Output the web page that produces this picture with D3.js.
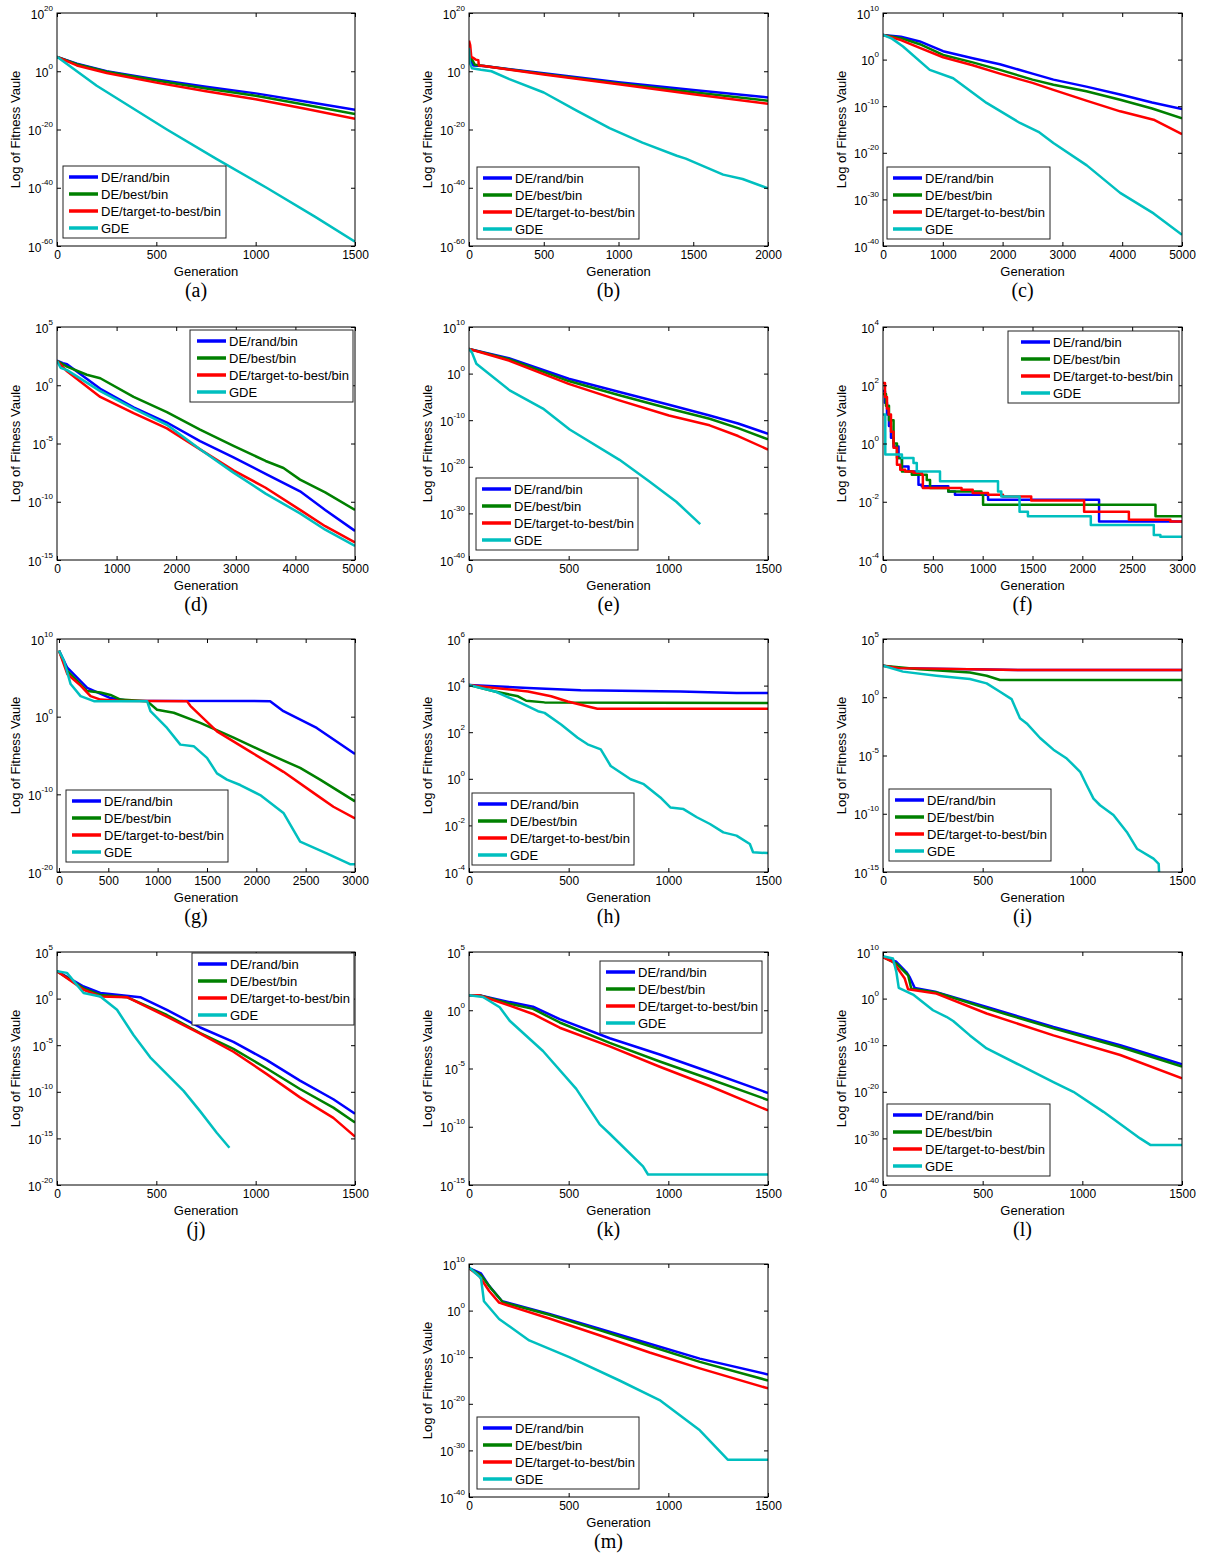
<!DOCTYPE html>
<html><head><meta charset="utf-8">
<script src="https://cdn.jsdelivr.net/npm/d3@7"></script>
<style>body{margin:0;background:#fff}text{font-family:"Liberation Sans",Arial,sans-serif}</style>
</head><body>
<svg id="c" width="1207" height="1553"></svg>
<script>
// ---- legend / series ----
const SERIES = ["DE/rand/bin", "DE/best/bin", "DE/target-to-best/bin", "GDE"];
const COLORS = ["#0000ff", "#008000", "#ff0000", "#00bfbf"];
// data: [generation, log10(fitness)]
// (a)
const a_xticks = [0, 500, 1000, 1500];
const a_yticks = [20, 0, -20, -40, -60];
const a_rand = [[0,4.9],[100,2.6],[250,0],[500,-2.8],[750,-5.3],[1000,-7.6],[1250,-10.4],[1500,-13.2]];
const a_best = [[0,4.9],[100,2.4],[250,-0.2],[500,-3.2],[750,-5.9],[1000,-8.4],[1250,-11.5],[1500,-14.7]];
const a_ttb  = [[0,4.9],[100,2.0],[250,-0.6],[500,-3.9],[750,-6.9],[1000,-9.6],[1250,-12.9],[1500,-16.3]];
const a_gde  = [[0,5],[50,2.5],[200,-5],[553,-20],[800,-30],[1055,-40],[1300,-50],[1500,-58.5]];
// (b)
const b_xticks = [0, 500, 1000, 1500, 2000];
const b_yticks = [20, 0, -20, -40, -60];
const b_rand = [[0,7],[15,3],[30,2],[100,1.8],[500,-0.7],[1000,-3.8],[1500,-6.4],[2000,-9]];
const b_best = [[0,6],[20,4],[40,2.2],[100,1.8],[500,-0.9],[1000,-4.2],[1500,-7.2],[2000,-10.1]];
const b_ttb  = [[0,10.5],[8,9],[15,5],[30,4.5],[45,4],[62,3.8],[66,2],[100,1.8],[500,-1.1],[1000,-4.5],[1500,-7.9],[2000,-11.2]];
const b_gde  = [[0,8],[5,3],[20,1],[80,0.5],[150,0],[270,-2.7],[500,-7.3],[720,-13.5],[940,-19.5],[1160,-24.5],[1390,-29],[1450,-30],[1610,-33.5],[1700,-35.5],[1830,-37],[2000,-40.2]];
// (c)
const c_xticks = [0, 1000, 2000, 3000, 4000, 5000];
const c_yticks = [10, 0, -10, -20, -30, -40];
const c_rand = [[0,5.3],[300,4.9],[615,3.9],[1005,1.8],[1500,0.3],[1955,-1],[2500,-3],[2850,-4.3],[3400,-5.8],[3966,-7.5],[4500,-9.2],[5000,-10.6]];
const c_best = [[0,5.3],[300,4.6],[615,3.3],[1005,1],[1500,-0.6],[1955,-2.2],[2500,-4.3],[2850,-5.4],[3400,-6.8],[3966,-8.6],[4500,-10.5],[5000,-12.6]];
const c_ttb  = [[0,5.3],[300,4.2],[615,2.5],[1005,0.5],[1500,-1.2],[1955,-3],[2500,-5],[2850,-6.5],[3400,-8.8],[3966,-11.1],[4525,-12.9],[5000,-16]];
const c_gde  = [[0,5.3],[150,4.5],[335,2.8],[782,-2.2],[1173,-4],[1732,-9.3],[2290,-13.6],[2600,-15.5],[2849,-17.9],[3408,-22.7],[3966,-28.6],[4525,-33],[5000,-37.6]];
// (d)
const d_xticks = [0, 1000, 2000, 3000, 4000, 5000];
const d_yticks = [5, 0, -5, -10, -15];
const d_rand = [[0,2.1],[100,1.9],[168,1.8],[726,-0.3],[1285,-1.9],[1844,-3.2],[2400,-4.8],[2961,-6.2],[3500,-7.6],[4078,-9.1],[4500,-10.7],[5000,-12.5]];
const d_best = [[0,2.1],[168,1.6],[500,0.9],[726,0.6],[1285,-1],[1844,-2.3],[2400,-3.8],[2961,-5.2],[3500,-6.5],[3800,-7.1],[4078,-8.1],[4500,-9.2],[5000,-10.7]];
const d_ttb  = [[0,2.1],[168,1.2],[726,-1],[1285,-2.4],[1844,-3.7],[2400,-5.5],[2961,-7.3],[3500,-8.8],[4078,-10.7],[4500,-12.1],[5000,-13.5]];
const d_gde  = [[0,2.1],[60,1.5],[168,1.3],[726,-0.5],[1285,-2],[1844,-3.4],[2400,-5.5],[2961,-7.5],[3500,-9.3],[4078,-11],[4500,-12.4],[5000,-13.8]];
// (e)
const e_xticks = [0, 500, 1000, 1500];
const e_yticks = [10, 0, -10, -20, -30, -40];
const e_rand = [[0,5.3],[200,3.3],[500,-1.1],[750,-3.9],[1003,-6.7],[1207,-9],[1350,-10.7],[1500,-12.9]];
const e_best = [[0,5.3],[200,3.1],[500,-1.6],[750,-4.6],[1003,-7.5],[1207,-9.7],[1350,-11.7],[1500,-14.1]];
const e_ttb  = [[0,5.3],[200,2.8],[500,-2.2],[750,-5.7],[1003,-9],[1207,-11.1],[1350,-13.4],[1500,-16.3]];
const e_gde  = [[0,5.3],[15,4.5],[37,2.1],[204,-3.6],[371,-7.5],[505,-12],[755,-18.5],[900,-23],[1040,-27.5],[1160,-32.3]];
// (f)
const f_xticks = [0, 500, 1000, 1500, 2000, 2500, 3000];
const f_yticks = [4, 2, 0, -2, -4];
const f_rand = [[0,1.8],[20,1.4],[40,1.0],[60,0.6],[80,0.2],[106,-0.1],[156,-0.5],[190,-0.79],[256,-0.96],[356,-1.42],[389,-1.47],[655,-1.65],[722,-1.76],[1054,-1.93],[2168,-2.68],[3000,-2.68]];
const f_best = [[0,1.7],[30,1.3],[60,0.8],[106,0],[140,-0.5],[190,-0.96],[289,-1.07],[439,-1.25],[472,-1.53],[655,-1.65],[988,-1.76],[1004,-2.1],[2734,-2.5],[3000,-2.5]];
const f_ttb  = [[0,2.08],[20,1.6],[40,1.2],[57,1],[80,0.4],[106,-0.15],[140,-0.73],[173,-0.9],[223,-0.96],[306,-1],[389,-1.07],[400,-1.53],[788,-1.59],[900,-1.7],[1054,-1.76],[1204,-1.82],[1487,-1.96],[2018,-2.34],[2467,-2.62],[2883,-2.68],[3000,-2.68]];
const f_gde  = [[0,1],[23,-0.38],[190,-0.5],[306,-0.67],[339,-0.96],[572,-1.3],[1154,-1.65],[1187,-1.82],[1370,-2.34],[1454,-2.5],[2085,-2.8],[2717,-3.14],[2783,-3.2],[3000,-3.2]];
// (g)
const g_xticks = [0, 500, 1000, 1500, 2000, 2500, 3000];
const g_yticks = [10, 0, -10, -20];
const g_rand = [[0,8.5],[84,6.3],[286,3.7],[522,2.4],[700,2.05],[2140,2],[2275,0.7],[2612,-1.45],[3000,-4.8]];
const g_best = [[0,8.5],[84,5.9],[286,3.3],[421,3.1],[522,2.8],[623,2.2],[893,2],[994,0.9],[1163,0.5],[1432,-0.8],[1770,-2.7],[2107,-4.7],[2444,-6.6],[2646,-8.1],[3000,-10.9]];
const g_ttb  = [[0,8.5],[84,5.5],[219,4],[320,2.65],[421,2.2],[600,2.05],[1297,2],[1331,1.4],[1601,-1.9],[1938,-4.5],[2275,-7.1],[2612,-10.1],[2781,-11.6],[3000,-13.1]];
const g_gde  = [[0,8.5],[51,7.2],[118,4.2],[219,2.65],[354,2],[893,2],[927,0.7],[1095,-1.45],[1230,-3.6],[1365,-3.8],[1500,-5.3],[1601,-7.3],[1702,-8.1],[1837,-8.8],[2039,-10.1],[2275,-12.4],[2444,-16.1],[2713,-17.6],[2949,-19],[3000,-19]];
// (h)
const h_xticks = [0, 500, 1000, 1500];
const h_yticks = [6, 4, 2, 0, -2, -4];
const h_rand = [[0,4.03],[296,3.9],[561,3.8],[1060,3.75],[1342,3.68],[1500,3.68]];
const h_best = [[0,4.03],[130,3.75],[246,3.54],[287,3.35],[379,3.28],[1500,3.25]];
const h_ttb  = [[0,4.03],[130,3.9],[296,3.75],[412,3.54],[495,3.32],[561,3.18],[644,3.01],[1500,3.01]];
const h_gde  = [[0,4.03],[130,3.75],[262,3.25],[346,2.9],[379,2.83],[462,2.33],[545,1.76],[595,1.48],[661,1.26],[711,0.55],[811,-0.02],[877,-0.23],[960,-0.8],[1010,-1.23],[1076,-1.3],[1143,-1.65],[1209,-1.94],[1276,-2.3],[1342,-2.44],[1409,-2.8],[1425,-3.15],[1500,-3.19]];
// (i)
const i_xticks = [0, 500, 1000, 1500];
const i_yticks = [5, 0, -5, -10, -15];
const i_rand = [[0,2.7],[80,2.5],[600,2.35],[1500,2.33]];
const i_best = [[0,2.7],[184,2.4],[436,2.13],[520,1.85],[587,1.48],[1500,1.48]];
const i_ttb  = [[0,2.7],[80,2.5],[600,2.35],[1500,2.33]];
const i_gde  = [[0,2.7],[100,2.2],[268,1.85],[436,1.56],[520,1.19],[587,0.47],[645,-0.16],[687,-1.8],[721,-2.25],[788,-3.5],[855,-4.5],[922,-5.26],[989,-6.4],[1022,-7.55],[1056,-8.7],[1089,-9.27],[1156,-10.1],[1223,-11.56],[1274,-13],[1357,-13.85],[1383,-14.3],[1385,-15]];
// (j)
const j_xticks = [0, 500, 1000, 1500];
const j_yticks = [5, 0, -5, -10, -15, -20];
const j_rand = [[0,2.94],[134,1.3],[218,0.6],[419,0.15],[553,-1.2],[721,-3.1],[888,-4.65],[1056,-6.6],[1223,-8.8],[1391,-10.8],[1500,-12.35]];
const j_best = [[0,2.94],[134,1.1],[218,0.4],[352,0.15],[553,-1.76],[721,-3.7],[888,-5.4],[1056,-7.5],[1223,-9.7],[1391,-11.7],[1500,-13.3]];
const j_ttb  = [[0,2.94],[134,0.95],[218,0.23],[352,0.15],[553,-1.94],[721,-3.75],[888,-5.7],[1056,-8.1],[1223,-10.6],[1391,-12.8],[1500,-14.8]];
const j_gde  = [[0,2.94],[50,2.76],[134,0.6],[218,0.23],[302,-1.2],[385,-3.9],[469,-6.3],[553,-8.1],[637,-9.9],[721,-12.1],[804,-14.4],[868,-16]];
// (k)
const k_xticks = [0, 500, 1000, 1500];
const k_yticks = [5, 0, -5, -10, -15];
const k_rand = [[0,1.29],[50,1.29],[204,0.7],[321,0.3],[455,-0.76],[706,-2.4],[957,-3.8],[1207,-5.3],[1500,-7.1]];
const k_best = [[0,1.29],[50,1.29],[204,0.56],[321,0.12],[455,-1.05],[706,-2.8],[957,-4.4],[1207,-5.9],[1500,-7.7]];
const k_ttb  = [[0,1.29],[50,1.29],[204,0.4],[321,-0.32],[455,-1.5],[706,-3.1],[957,-4.85],[1207,-6.5],[1500,-8.6]];
const k_gde  = [[0,1.29],[70,1.14],[154,0.26],[204,-0.9],[371,-3.5],[538,-6.75],[656,-9.8],[706,-10.6],[873,-13.4],[898,-14.1],[1500,-14.1]];
// (l)
const l_xticks = [0, 500, 1000, 1500];
const l_yticks = [10, 0, -10, -20, -30, -40];
const l_rand = [[0,8.9],[67,7.9],[117,5.7],[134,4.6],[159,2.3],[268,1.4],[520,-1.8],[855,-6.1],[1190,-10],[1500,-14.1]];
const l_best = [[0,8.9],[67,7.5],[126,5],[142,2.1],[268,1.3],[520,-2.1],[855,-6.4],[1190,-10.4],[1500,-14.6]];
const l_ttb  = [[0,8.9],[50,7.9],[109,4.3],[126,2],[268,1.07],[520,-3.2],[855,-7.9],[1190,-12.1],[1500,-17.1]];
const l_gde  = [[0,9.1],[50,8.6],[67,5.7],[79,2.3],[151,0.86],[251,-2.5],[318,-3.9],[352,-4.8],[436,-7.9],[520,-10.7],[687,-14.3],[855,-17.9],[955,-20],[1106,-24.3],[1290,-30],[1341,-31.4],[1500,-31.4]];
// (m)
const m_xticks = [0, 500, 1000, 1500];
const m_yticks = [10, 0, -10, -20, -30, -40];
const m_rand = [[0,9.1],[60,8],[101,5.3],[166,2],[403,-0.7],[654,-3.9],[906,-7.1],[1158,-10.3],[1500,-13.7]];
const m_best = [[0,9.1],[60,7.6],[110,4.8],[170,1.8],[403,-0.9],[654,-4.2],[906,-7.6],[1158,-11],[1500,-15]];
const m_ttb  = [[0,9.1],[50,7.5],[101,4.2],[151,1.7],[403,-1.7],[654,-5.3],[906,-9],[1158,-12.4],[1500,-16.7]];
const m_gde  = [[0,9.3],[60,7],[75,2],[151,-1.8],[302,-6.4],[503,-10],[755,-15],[956,-19.2],[1158,-25.7],[1298,-32],[1500,-32]];

// ---- layout ----
const colX = [57, 469, 883], colW = [298, 299, 299];
const rowY = [13, 327, 639, 952, 1264], H = 233;
const panels = [
  {id:"a", d:[a_rand,a_best,a_ttb,a_gde], xt:a_xticks, yt:a_yticks, c:0, r:0, leg:[6,153,163,6]},
  {id:"b", d:[b_rand,b_best,b_ttb,b_gde], xt:b_xticks, yt:b_yticks, c:1, r:0, leg:[8,154,162,6]},
  {id:"c", d:[c_rand,c_best,c_ttb,c_gde], xt:c_xticks, yt:c_yticks, c:2, r:0, leg:[4,154,163,6]},
  {id:"d", d:[d_rand,d_best,d_ttb,d_gde], xt:d_xticks, yt:d_yticks, c:0, r:1, leg:[133,3,163,7]},
  {id:"e", d:[e_rand,e_best,e_ttb,e_gde], xt:e_xticks, yt:e_yticks, c:1, r:1, leg:[7,151,162,6]},
  {id:"f", d:[f_rand,f_best,f_ttb,f_gde], xt:f_xticks, yt:f_yticks, c:2, r:1, leg:[125,4,171,13], step:true},
  {id:"g", d:[g_rand,g_best,g_ttb,g_gde], xt:g_xticks, yt:g_yticks, c:0, r:2, leg:[9,151,162,6], xmin:-20},
  {id:"h", d:[h_rand,h_best,h_ttb,h_gde], xt:h_xticks, yt:h_yticks, c:1, r:2, leg:[3,154,162,6]},
  {id:"i", d:[i_rand,i_best,i_ttb,i_gde], xt:i_xticks, yt:i_yticks, c:2, r:2, leg:[6,150,162,6]},
  {id:"j", d:[j_rand,j_best,j_ttb,j_gde], xt:j_xticks, yt:j_yticks, c:0, r:3, leg:[135,1,162,6]},
  {id:"k", d:[k_rand,k_best,k_ttb,k_gde], xt:k_xticks, yt:k_yticks, c:1, r:3, leg:[131,9,162,6]},
  {id:"l", d:[l_rand,l_best,l_ttb,l_gde], xt:l_xticks, yt:l_yticks, c:2, r:3, leg:[4,152,163,6]},
  {id:"m", d:[m_rand,m_best,m_ttb,m_gde], xt:m_xticks, yt:m_yticks, c:1, r:4, leg:[8,153,162,6]}
];

const svg = d3.select("#c");
svg.append("rect").attr("width",1207).attr("height",1553).attr("fill","#fff");

panels.forEach(p => {
  const L = colX[p.c], T = rowY[p.r], W = colW[p.c];
  const xmin = p.xmin !== undefined ? p.xmin : p.xt[0];
  const x = d3.scaleLinear().domain([xmin, p.xt[p.xt.length-1]]).range([L, L+W]);
  const y = d3.scaleLog().domain([Math.pow(10, d3.min(p.yt)), Math.pow(10, d3.max(p.yt))]).range([T+H, T]);
  const g = svg.append("g");
  g.append("clipPath").attr("id", "clip-"+p.id).append("rect")
    .attr("x", L).attr("y", T).attr("width", W).attr("height", H);

  const line = d3.line().x(d => x(d[0])).y(d => y(Math.pow(10, d[1])));
  if (p.step) line.curve(d3.curveStepAfter);
  p.d.forEach((s, i) => {
    g.append("path").attr("d", line(s)).attr("fill","none")
      .attr("stroke", COLORS[i]).attr("stroke-width", 2.5)
      .attr("stroke-linejoin","round")
      .attr("clip-path", "url(#clip-"+p.id+")");
  });

  const yv = p.yt.map(e => Math.pow(10, e));
  // axes (inward ticks)
  const ax = g.append("g").attr("transform", `translate(0,${T+H})`)
    .call(d3.axisBottom(x).tickValues(p.xt).tickSize(-4).tickPadding(4).tickFormat(d3.format("d")));
  ax.selectAll("text").attr("font-size", 12).attr("fill","#000").attr("font-family","Liberation Sans, Arial, sans-serif");
  g.append("g").attr("transform", `translate(0,${T})`)
    .call(d3.axisTop(x).tickValues(p.xt).tickSize(-4).tickFormat(""));
  const ay = g.append("g").attr("transform", `translate(${L},0)`)
    .call(d3.axisLeft(y).tickValues(yv).tickSize(-4).tickFormat(""));
  g.append("g").attr("transform", `translate(${L+W},0)`)
    .call(d3.axisRight(y).tickValues(yv).tickSize(-4).tickFormat(""));
  g.selectAll(".domain").remove();
  g.selectAll(".tick line").attr("stroke","#000");

  ay.selectAll(".tick").each(function(d) {
    const e = Math.round(Math.log10(d));
    const t = d3.select(this).append("text").attr("text-anchor","end")
      .attr("x", -4).attr("y", 5).attr("font-size", 12).attr("fill","#000");
    t.append("tspan").text("10");
    t.append("tspan").attr("dy", -8).attr("font-size", 8).text(String(e));
  });

  g.append("rect").attr("x", L).attr("y", T).attr("width", W).attr("height", H)
    .attr("fill","none").attr("stroke","#000").attr("stroke-width",1);

  // legend
  const [lx, ly, lw, pad] = p.leg;
  const lg = g.append("g").attr("transform", `translate(${L+lx},${T+ly})`);
  lg.append("rect").attr("width", lw).attr("height", 72).attr("fill","#fff")
    .attr("stroke","#222").attr("stroke-width",1);
  SERIES.forEach((s, i) => {
    const yy = 11 + 17*i;
    lg.append("line").attr("x1", pad).attr("x2", pad+29).attr("y1", yy).attr("y2", yy)
      .attr("stroke", COLORS[i]).attr("stroke-width", 3.5);
    lg.append("text").attr("x", pad+32).attr("y", yy).attr("dy","0.35em")
      .attr("font-size", 13).attr("fill","#000").text(s);
  });

  // labels
  g.append("text").attr("transform", `translate(${L-37},${T+H/2}) rotate(-90)`)
    .attr("text-anchor","middle").attr("font-size", 13).attr("fill","#000")
    .text("Log of Fitness Vaule");
  g.append("text").attr("x", L+W/2).attr("y", T+H+30).attr("text-anchor","middle")
    .attr("font-size", 13).attr("fill","#000").text("Generation");
  g.append("text").attr("x", L+W/2-10).attr("y", T+H+51).attr("text-anchor","middle")
    .attr("font-size", 20).attr("fill","#000")
    .style("font-family","'Liberation Serif','Times New Roman',serif")
    .text("(" + p.id + ")");
});
</script>
</body></html>
